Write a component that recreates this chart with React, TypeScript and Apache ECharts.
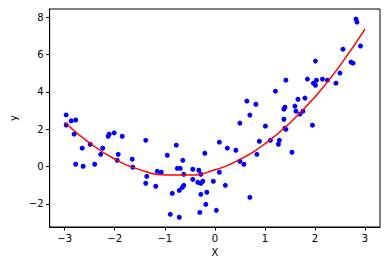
import React, { useEffect, useRef } from "react";
import * as echarts from "echarts";

const pointsX = [
  -2.97, -2.87, -2.78, -2.97, -2.81, -2.65, -2.49, -2.78, -2.63, -2.40,
  -2.24, -2.28, -2.13, -2.11, -2.01, -1.85, -1.93, -1.95, -1.38, -1.65,
  -1.64, -1.36, -1.38, -1.18, -1.15, -1.07, -0.95, -0.77, -0.64, -0.75,
  -0.69, -0.62, -0.62, -0.65, -0.71, -0.85, -0.89, -0.71, -0.20, 0.09,
  0.25, 0.50, 0.42, 0.50, 0.58, -0.44, -0.32, -0.28, -0.44, -0.34,
  -0.28, -0.24, -0.03, 0.09, 0.21, -0.28, -0.16, -0.18, -0.30, 0.03,
  0.70, 1.42, 1.21, 1.85, 0.64, 0.82, 0.70, 1.38, 1.40, 1.60,
  1.66, 1.80, 1.62, 1.70, 1.76, 1.38, 1.40, 1.42, 1.01, 1.11,
  0.89, 1.29, 1.27, 1.54, 0.84, 2.82, 2.84, 2.91, 2.56, 2.72,
  2.76, 2.50, 2.42, 2.25, 2.15, 2.03, 1.97, 2.01, 2.01, 1.95,
];
const pointsY = [
  2.76, 2.44, 2.49, 2.22, 1.73, 0.98, 1.19, 0.12, 0.01, 0.12,
  0.98, 0.65, 1.62, 1.73, 1.80, 1.62, 0.65, 0.33, 1.40, 0.39,
  -0.04, -0.53, -0.90, -1.06, -0.26, -0.31, 0.60, 1.14, 0.33, -0.10,
  -0.10, -0.42, -1.01, -1.12, -1.28, -1.44, -2.56, -2.72, 0.71, 1.30,
  0.98, 2.32, 0.87, 0.28, 0.12, -0.15, -0.20, -0.42, -0.69, -0.85,
  -0.90, -0.79, -0.79, -0.31, -1.01, -1.49, -1.38, -2.03, -2.46, -2.35,
  -1.65, 4.62, 4.03, 4.68, 3.50, 3.33, 2.75, 3.07, 3.17, 3.23,
  3.60, 3.66, 2.96, 2.80, 2.96, 2.53, 2.05, 1.99, 2.16, 1.40,
  1.35, 1.40, 1.19, 0.76, 0.65, 7.89, 7.73, 6.45, 6.28, 5.59,
  5.53, 5.00, 4.46, 4.62, 4.68, 4.62, 4.46, 4.35, 5.64, 2.21,
];

const curveX = [-3, -2.5, -2, -1.5, -1, -0.5, 0, 0.5, 1, 1.5, 2, 2.5, 3];
const curveY = [2.37, 1.25, 0.4, -0.17, -0.45, -0.46, -0.18, 0.38, 1.21, 2.33, 3.72, 5.4, 7.35];

const xTicks = [-3, -2, -1, 0, 1, 2, 3];
const yTicks = [-2, 0, 2, 4, 6, 8];

const fmt = (v: number) => String(v).replace("-", "\u2212");

export default function App() {
  const ref = useRef<HTMLDivElement>(null);
  useEffect(() => {
    document.body.style.margin = "0";
    const chart = echarts.init(ref.current!, null, { renderer: "svg" });
    const font = "DejaVu Sans";
    chart.setOption({
      animation: false,
      backgroundColor: "#ffffff",
      grid: {
        left: 45,
        right: 8,
        top: 9,
        bottom: 39,
        show: true,
        borderColor: "#000",
        borderWidth: 1,
      },
      xAxis: {
        type: "value",
        min: -3.3,
        max: 3.3,
        name: "X",
        nameLocation: "middle",
        nameGap: 20,
        nameTextStyle: { color: "#000", fontFamily: font, fontSize: 10 },
        splitLine: { show: false },
        axisLine: { show: true, onZero: false, lineStyle: { color: "#000" } },
        axisTick: { show: true, inside: false, length: 3.5, customValues: xTicks, lineStyle: { color: "#000" } },
        axisLabel: { customValues: xTicks, margin: 6, color: "#000", fontFamily: font, fontSize: 10, formatter: fmt },
      },
      yAxis: {
        type: "value",
        min: -3.24,
        max: 8.43,
        name: "y",
        nameLocation: "middle",
        nameGap: 30,
        nameTextStyle: { color: "#000", fontFamily: font, fontSize: 10 },
        splitLine: { show: false },
        axisLine: { show: true, onZero: false, lineStyle: { color: "#000" } },
        axisTick: { show: true, inside: false, length: 3.5, customValues: yTicks, lineStyle: { color: "#000" } },
        axisLabel: { customValues: yTicks, margin: 6, color: "#000", fontFamily: font, fontSize: 10, formatter: fmt },
      },
      series: [
        {
          type: "scatter",
          data: pointsX.map((x, i) => [x, pointsY[i]]),
          symbol: "circle",
          symbolSize: 5,
          itemStyle: { color: "#0000ff", opacity: 1 },
          z: 2,
        },
        {
          type: "line",
          data: curveX.map((x, i) => [x, curveY[i]]),
          smooth: true,
          showSymbol: false,
          lineStyle: { color: "#ff0000", width: 1.5 },
          z: 3,
        },
      ],
    });
    return () => chart.dispose();
  }, []);
  return <div ref={ref} style={{ width: 388, height: 266 }} />;
}
